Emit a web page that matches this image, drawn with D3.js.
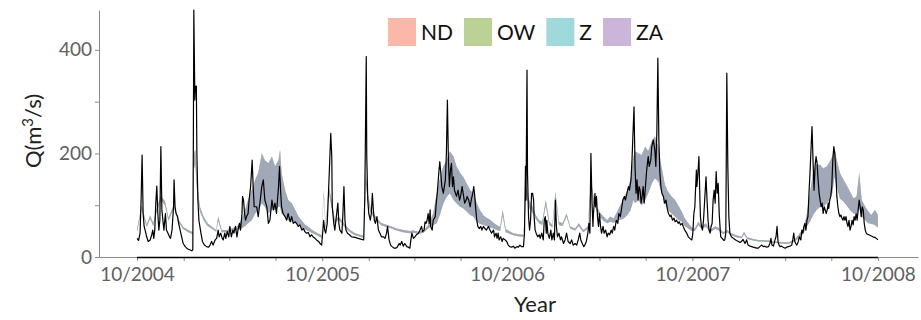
<!DOCTYPE html>
<html><head><meta charset="utf-8">
<script src="https://cdn.jsdelivr.net/npm/d3@7"></script>
<style>body{margin:0;background:#fff} svg text{font-family:Lato,"DejaVu Sans",sans-serif}</style>
</head><body><svg id="c" width="921" height="320"></svg>
<script>
// ---------- data ----------
const startDate = "2004-10-01";
const axisStart = "2004-07-18";
const axisEnd = "2008-12-19";
const yMax = 477;

// observed discharge: day offset from startDate, value (m3/s)
const obsDay = [0,3,6,8,10,12,14,16,19,22,26,29,31,33,35,37,39,41,43,45,47,49,51,53,56,58,61,64,66,69,72,73,75,77,80,82,85,88,91,95,98,101,104,108,110,111,112,114,115,117,118,120,122,126,129,133,137,141,144,147,150,154,157,160,162,165,168,170,173,175,178,181,183,186,189,191,194,197,199,202,204,207,208,210,212,214,216,219,221,224,227,229,231,
236,239,243,246,249,252,256,259,262,266,269,272,275,279,281,283,285,288,292,295,298,302,305,308,312,315,318,321,325,328,331,334,338,341,344,348,351,354,358,361,364,366,368,370,372,375,377,380,382,384,385,388,390,393,396,398,400,404,406,408,410,412,415,419,423,430,436,443,447,449,450,452,453,455,457,460,462,464,466,468,470,473,476,479,482,
486,489,492,494,497,500,503,507,510,513,517,519,522,525,528,532,535,538,540,542,545,548,551,555,558,561,563,566,568,570,572,574,576,578,579,582,584,588,590,592,595,597,599,601,604,606,608,610,612,614,616,618,620,622,624,626,628,630,633,636,638,641,644,646,649,651,654,657,659,662,664,666,668,670,672,675,678,680,683,686,689,693,696,699,703,705,708,710,712,714,717,720,722,726,729,
732,735,739,742,745,749,752,755,758,762,764,766,767,769,770,772,774,776,778,780,782,783,785,787,790,793,795,798,801,803,805,807,808,810,813,816,818,821,823,825,827,829,832,835,837,841,844,847,850,854,857,860,864,867,870,873,875,878,881,883,886,889,891,893,895,897,899,900,903,904,906,908,910,912,914,916,919,921,924,927,929,932,935,937,940,942,945,948,950,953,956,958,961,963,966,969,971,974,976,978,
980,982,984,986,988,990,992,994,996,998,1000,1002,1005,1008,1010,1013,1015,1018,1021,1023,1025,1027,1029,1031,1033,1035,1038,1040,1043,1046,1048,1051,1053,1056,1059,1061,1064,1067,1069,1072,1075,1077,1080,1084,1087,1090,1094,1096,1098,1100,1101,1103,1104,1106,1108,1110,1111,1113,1115,1117,1119,1122,1124,1126,1128,1130,1132,1134,1136,1138,1140,1142,1144,1146,1148,1150,1151,1154,1157,1159,1161,1163,1165,1167,1169,1172,1176,1179,1182,1186,1189,1192,1195,1199,1202,1205,1209,1212,1215,1222,
1225,1228,1232,1235,1238,1241,1245,1248,1250,1252,1255,1258,1260,1262,1264,1266,1268,1271,1274,1278,1281,1284,1288,1291,1293,1295,1297,1299,1301,1304,1306,1309,1311,1313,1315,1317,1319,1321,1323,1325,1327,1329,1331,1333,1335,1337,1339,1341,1343,1345,1347,1349,1351,1353,1355,1357,1359,1361,1363,1364,1366,1368,1370,1372,1374,1376,1378,1380,1382,1384,1386,1388,1390,1392,1394,1396,1398,1400,1402,1404,1406,1408,1410,1412,1414,1416,1418,1420,1422,1424,1426,1428,1430,1432,1434,1436,1438,1440,1443,1447,1451,1455,1459,1461];
const obsQ = [36,32,46,110,197,84,59,52,39,30,33,43,52,36,52,104,137,84,52,71,213,91,71,52,84,52,46,39,36,52,97,149,97,84,78,65,52,39,26,20,17,15,14,12,14,207,477,303,329,330,200,110,71,46,30,23,20,19,23,30,23,33,36,52,39,46,36,33,46,36,49,39,59,39,52,46,59,39,52,65,52,84,117,110,84,71,78,84,110,136,187,136,97,
97,78,110,136,149,110,97,65,71,110,91,104,84,136,175,129,97,84,78,71,84,68,78,65,68,64,59,62,52,55,49,46,47,39,43,38,36,33,30,26,23,46,71,52,46,65,110,187,239,194,97,65,52,78,104,65,52,46,84,136,71,52,46,43,39,38,36,34,33,110,197,387,194,110,84,71,84,123,91,71,65,78,52,46,39,
39,36,46,59,33,23,20,17,17,19,26,23,30,21,26,20,19,17,33,46,36,39,43,46,52,59,49,52,68,65,71,84,65,91,59,52,71,78,104,123,162,184,162,136,123,136,149,200,303,187,136,168,181,136,155,129,123,117,129,110,117,136,117,104,110,117,110,97,110,123,136,117,91,71,59,55,59,52,59,55,52,59,52,46,52,39,46,36,46,33,39,30,36,33,30,
23,20,19,21,17,20,19,23,20,20,46,175,110,361,162,78,52,71,123,123,110,78,52,46,39,43,36,46,33,71,78,46,71,46,36,52,33,46,33,110,59,39,46,33,39,26,33,46,30,26,33,23,26,23,33,46,33,26,20,23,30,46,65,46,200,110,59,84,123,97,117,78,59,84,59,46,59,46,52,39,46,43,52,46,59,52,71,65,84,78,97,110,117,110,123,136,129,149,187,239,
290,175,123,149,110,136,129,104,117,136,104,129,168,194,175,187,213,226,207,175,239,384,226,162,136,123,117,104,110,91,84,78,81,71,75,68,71,65,68,62,65,59,52,46,39,36,33,46,84,97,123,168,136,162,194,110,78,59,52,71,104,155,110,71,52,46,59,65,110,129,104,165,123,142,84,52,39,36,32,33,46,355,175,78,46,39,36,34,32,30,28,30,34,26,33,23,21,20,19,17,
17,20,23,20,21,19,20,26,36,23,21,33,39,59,30,23,20,21,19,17,19,20,21,23,33,46,30,26,23,30,39,33,52,46,59,65,52,71,78,123,162,207,252,187,129,175,194,181,149,123,110,97,104,84,97,91,84,91,104,94,110,117,136,187,213,200,162,117,97,84,78,81,75,71,78,71,78,65,59,71,52,59,71,62,78,71,84,71,91,110,97,78,97,91,65,52,46,44,43,41,39,38,35,33];

// simulated ensemble spread (day offset, lower, upper) — the four model ribbons overlap almost entirely
const bandDay = [0,9,19,26,32,39,47,55,62,73,81,91,101,110,112,115,119,124,131,139,147,156,160,167,177,187,197,206,213,219,226,233,239,246,252,259,266,272,279,282,285,292,298,305,312,318,325,331,338,344,351,358,364,368,372,378,384,390,397,404,410,420,430,440,447,451,455,460,466,473,482,486,499,512,525,538,545,555,565,574,584,591,598,604,611,617,624,630,637,643,650,657,663,670,676,683,689,696,703,709,716,721,727,732,742,752,762,768,773,780,786,793,799,806,813,819,825,832,839,847,854,864,871,880,889,895,900,907,914,920,927,933,940,947,953,960,966,973,979,982,989,995,1002,1008,1015,1021,1028,1034,1041,1047,1054,1061,1067,1074,1080,1087,1094,1100,1107,1113,1122,1130,1140,1146,1156,1164,1172,1182,1192,1197,1203,1215,1225,1232,1245,1258,1271,1284,1297,1307,1314,1320,1327,1333,1340,1347,1353,1360,1366,1371,1375,1380,1386,1393,1399,1406,1413,1419,1424,1429,1436,1442,1448,1455,1461];
const bandLow = [48,92,58,74,60,88,110,100,70,95,68,54,48,44,170,180,115,88,72,60,55,49,70,48,48,50,52,55,60,65,71,84,91,104,97,84,91,91,97,97,84,78,71,68,66,62,56,53,50,47,44,40,37,120,55,125,95,65,72,65,57,48,42,39,37,140,110,88,78,70,61,60,56,51,48,46,47,45,47,55,62,65,84,104,117,123,110,104,97,94,88,81,78,68,64,62,60,57,55,52,50,80,48,46,42,40,39,120,95,85,74,65,62,100,62,57,115,62,60,78,55,51,60,48,55,130,105,88,76,70,65,68,66,70,72,75,80,90,110,104,110,100,110,123,142,152,146,126,104,91,84,78,72,68,60,55,50,50,62,54,59,48,54,52,44,48,42,38,36,44,35,32,30,30,29,27,26,25,30,38,46,58,68,81,91,97,97,104,110,123,155,136,113,107,100,91,84,84,94,78,71,65,64,62,57];
const bandHigh = [53,100,63,80,65,95,118,108,76,102,74,58,52,48,200,207,136,97,78,65,59,52,78,52,52,55,59,71,91,110,129,149,162,200,187,181,194,175,187,207,162,129,110,104,91,78,70,63,58,53,49,45,42,129,62,136,108,71,78,71,62,52,46,43,41,162,123,97,84,75,65,64,60,55,52,50,51,49,51,62,84,123,155,175,187,204,194,175,162,155,142,129,123,104,91,80,76,72,66,62,58,91,54,51,46,44,43,136,110,97,81,71,68,110,68,62,126,68,65,84,59,55,65,52,59,149,117,97,84,78,71,78,75,88,100,113,126,149,194,204,200,197,213,204,223,233,213,175,139,126,117,110,100,88,75,65,57,55,68,59,65,52,59,57,48,52,46,42,39,49,38,35,33,33,32,30,29,28,34,46,55,78,123,162,178,178,171,175,184,194,207,187,162,149,139,126,113,117,162,110,97,88,81,91,81];

const models = ["ND", "OW", "Z", "ZA"];
const legendColors = ["#f9b8aa", "#bbd196", "#a0d9dc", "#cbb6d9"];
const ribbonColors = ["#d2837a", "#8caf60", "#5fafb4", "#a88ed2"];

const xTickDates = ["2004-10-01","2005-01-01","2005-04-01","2005-07-01","2005-10-01","2006-01-01","2006-04-01","2006-07-01","2006-10-01","2007-01-01","2007-04-01","2007-07-01","2007-10-01","2008-01-01","2008-04-01","2008-07-01","2008-10-01"];
const xTickLabels = {"2004-10-01":"10/2004","2005-10-01":"10/2005","2006-10-01":"10/2006","2007-10-01":"10/2007","2008-10-01":"10/2008"};
const yTickValues = [0, 100, 200, 300, 400];
const yTickLabels = {0:"0", 200:"200", 400:"400"};

// ---------- drawing ----------
const parse = d3.utcParse("%Y-%m-%d");
const t0 = parse(startDate);
const svg = d3.select("#c");
const x = d3.scaleUtc().domain([parse(axisStart), parse(axisEnd)]).range([99, 918]);
const y = d3.scaleLinear().domain([0, yMax]).range([257, 10]);

const obs = obsDay.map((d, i) => ({t: d3.utcDay.offset(t0, d), q: obsQ[i]}));
const band = bandDay.map((d, i) => ({t: d3.utcDay.offset(t0, d), lo: bandLow[i], hi: bandHigh[i]}));

const area = d3.area().x(d => x(d.t)).y0(d => y(d.lo)).y1(d => y(d.hi)).curve(d3.curveLinear);
models.forEach((m, i) => {
  svg.append("path").datum(band).attr("d", area)
    .attr("fill", ribbonColors[i]).attr("fill-opacity", 0.4).attr("stroke", "none");
});

svg.append("path").datum(obs)
  .attr("d", d3.line().x(d => x(d.t)).y(d => y(d.q)))
  .attr("fill", "none").attr("stroke", "#000").attr("stroke-width", 1.2).attr("stroke-linejoin", "round");

// y axis
const gy = svg.append("g").attr("transform", "translate(99,0)")
  .call(d3.axisLeft(y).tickValues(yTickValues).tickFormat(d => yTickLabels[d] || "").tickSize(4).tickSizeOuter(0).tickPadding(3));
gy.select(".domain").attr("stroke", "#8a8a8a");
gy.selectAll(".tick line").attr("stroke", "#8a8a8a");
gy.selectAll(".tick text").attr("fill", "#606060").style("font-size", "19px");

// x axis
const gx = svg.append("g").attr("transform", "translate(0,257)")
  .call(d3.axisBottom(x).tickValues(xTickDates.map(parse))
    .tickFormat(d => xTickLabels[d3.utcFormat("%Y-%m-%d")(d)] || "").tickSize(4).tickSizeOuter(0).tickPadding(7));
gx.select(".domain").attr("stroke", "#8a8a8a");
gx.selectAll(".tick line").attr("stroke", "#8a8a8a");
gx.selectAll(".tick text").attr("fill", "#606060").style("font-size", "19px");
svg.append("line")
  .attr("x1", x(parse(xTickDates[0]))).attr("x2", x(parse(xTickDates[xTickDates.length - 1])))
  .attr("y1", 257.5).attr("y2", 257.5).attr("stroke", "#000").attr("stroke-width", 1.6);

// titles
svg.append("text").attr("x", 535).attr("y", 312).attr("text-anchor", "middle")
  .attr("fill", "#222").style("font-size", "22px").text("Year");
const yt = svg.append("text").attr("transform", "translate(41,131) rotate(-90)").attr("text-anchor", "middle")
  .attr("fill", "#222").style("font-size", "22px");
yt.append("tspan").text("Q(m");
yt.append("tspan").attr("dy", -8).style("font-size", "15px").text("3");
yt.append("tspan").attr("dy", 8).text("/s)");

// legend
let lx = 388;
models.forEach((m, i) => {
  svg.append("rect").attr("x", lx).attr("y", 18).attr("width", 28).attr("height", 28).attr("fill", legendColors[i]);
  const t = svg.append("text").attr("x", lx + 33).attr("y", 40).attr("fill", "#111").style("font-size", "21px").text(m);
  lx += 33 + t.node().getComputedTextLength() + 11;
});
</script></body></html>
